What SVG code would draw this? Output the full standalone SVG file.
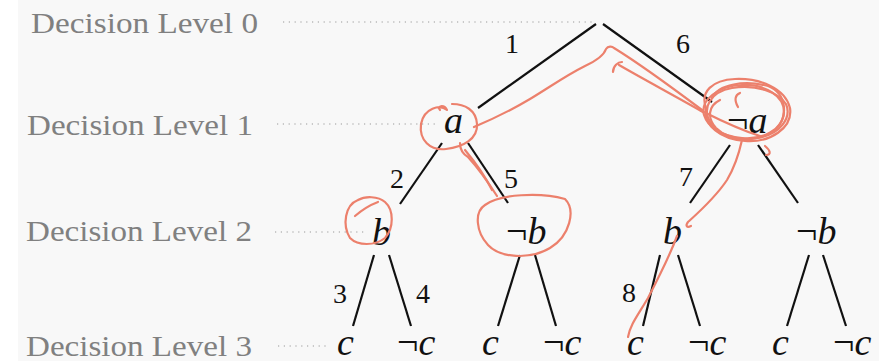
<svg xmlns="http://www.w3.org/2000/svg" width="879" height="361" viewBox="0 0 879 361">
<style>
.lvl{font-family:"Liberation Serif","DejaVu Serif",serif;font-size:29px;fill:#808080}
.dot{stroke:#9a9a9a;stroke-width:1.2;stroke-dasharray:1.2 4.6;fill:none}
.edge{stroke:#111;stroke-width:2.2;fill:none}
.num{font-family:"Liberation Serif","DejaVu Serif",serif;font-size:28px;fill:#111;text-anchor:middle}
.node{font-family:"Liberation Serif","DejaVu Serif",serif;font-size:38px;font-style:italic;fill:#111}
.neg{font-style:normal}
.ann{stroke:#ec806c;stroke-width:2.2;fill:none;stroke-linecap:round;stroke-linejoin:round}
</style>
<rect x="0" y="0" width="879" height="361" fill="#ffffff"/>
<rect x="18" y="0" width="861" height="361" fill="#f8f8f8"/>
<g id="levels">
<text class="lvl" x="31" y="33" textLength="227" lengthAdjust="spacingAndGlyphs">Decision Level 0</text>
<text class="lvl" x="27" y="135" textLength="226" lengthAdjust="spacingAndGlyphs">Decision Level 1</text>
<text class="lvl" x="26" y="241" textLength="226" lengthAdjust="spacingAndGlyphs">Decision Level 2</text>
<text class="lvl" x="26" y="356" textLength="226" lengthAdjust="spacingAndGlyphs">Decision Level 3</text>
<line class="dot" x1="283" y1="22" x2="595" y2="22"/>
<line class="dot" x1="277" y1="124" x2="435" y2="124"/>
<line class="dot" x1="275" y1="232" x2="365" y2="232"/>
<line class="dot" x1="278" y1="346" x2="328" y2="346"/>
</g>
<g id="connectors">
<line class="edge" x1="596" y1="24" x2="478" y2="108"/>
<line class="edge" x1="603" y1="24" x2="712" y2="102"/>
<line class="edge" x1="442" y1="143" x2="400" y2="204"/>
<line class="edge" x1="468" y1="143" x2="508" y2="203"/>
<line class="edge" x1="730" y1="145" x2="690" y2="203"/>
<line class="edge" x1="758" y1="145" x2="798" y2="203"/>
<line class="edge" x1="374" y1="255" x2="353" y2="326"/>
<line class="edge" x1="389" y1="255" x2="411" y2="326"/>
<line class="edge" x1="520" y1="255" x2="498" y2="326"/>
<line class="edge" x1="535" y1="255" x2="556" y2="326"/>
<line class="edge" x1="660" y1="255" x2="643" y2="326"/>
<line class="edge" x1="678" y1="255" x2="700" y2="326"/>
<line class="edge" x1="809" y1="255" x2="787" y2="326"/>
<line class="edge" x1="823" y1="255" x2="846" y2="326"/>
<text class="num" x="512" y="53">1</text>
<text class="num" x="683" y="53">6</text>
<text class="num" x="397" y="188">2</text>
<text class="num" x="511" y="188">5</text>
<text class="num" x="686" y="186">7</text>
<text class="num" x="340" y="303">3</text>
<text class="num" x="423" y="303">4</text>
<text class="num" x="629" y="302">8</text>
</g>
<g id="n-a"><text class="node" x="444" y="133">a</text></g>
<g id="n-nota"><text class="node" x="727" y="133"><tspan class="neg">¬</tspan>a</text></g>
<g id="n-b1"><text class="node" x="372" y="245">b</text></g>
<g id="n-notb2"><text class="node" x="506" y="244"><tspan class="neg">¬</tspan>b</text></g>
<g id="n-b3"><text class="node" x="663" y="244">b</text></g>
<g id="n-notb4"><text class="node" x="796" y="244"><tspan class="neg">¬</tspan>b</text></g>
<g id="n-c1"><text class="node" x="337" y="355">c</text></g>
<g id="n-notc1"><text class="node" x="397" y="355"><tspan class="neg">¬</tspan>c</text></g>
<g id="n-c2"><text class="node" x="482" y="355">c</text></g>
<g id="n-notc2"><text class="node" x="543" y="355"><tspan class="neg">¬</tspan>c</text></g>
<g id="n-c3"><text class="node" x="627" y="355">c</text></g>
<g id="n-notc3"><text class="node" x="688" y="355"><tspan class="neg">¬</tspan>c</text></g>
<g id="n-c4"><text class="node" x="772" y="355">c</text></g>
<g id="n-notc4"><text class="node" x="833" y="355"><tspan class="neg">¬</tspan>c</text></g>
<g id="annotations">
<path class="ann" d="M440,110 C436,106 444,104 447,110 C440,104 424,108 421,124 C419,140 430,151 446,149 C463,147 478,139 477,124 C476,110 465,104 452,104"/>
<path class="ann" d="M474,127 C495,118 515,108 530,99 C550,87 565,76 585,66 C598,60 604,55 606,49 C608,46 612,46 614,48 C640,64 670,86 702,110"/>
<path class="ann" d="M613,72 C613,66 618,62 622,62 M619,65 C645,80 675,96 703,112"/>
<path class="ann" d="M706,108 C700,92 712,80 735,79 C760,78 785,88 790,108 C793,128 770,143 745,141 C720,139 703,125 706,108 Z"/>
<path class="ann" d="M712,98 C718,84 745,80 768,86 C788,94 788,118 775,130 C760,142 730,142 716,128 C707,118 708,106 720,100"/>
<path class="ann" d="M704,115 C700,100 718,86 742,85 C765,84 784,96 784,112 C783,130 762,140 742,138 C722,136 708,128 704,115"/>
<path class="ann" d="M710,122 C702,108 710,92 732,88 C756,84 778,92 786,104 C792,118 780,134 758,138 C738,142 716,136 710,122"/>
<path class="ann" d="M700,110 C716,118 735,128 760,136"/>
<path class="ann" d="M738,107 C734,100 735,95 740,93"/>
<path class="ann" d="M765,146 C770,150 772,155 766,155"/>
<path class="ann" d="M742,140 C738,158 733,170 727,180 C715,198 698,213 688,222 C685,226 687,228 691,226"/>
<path class="ann" d="M677,236 C670,255 660,275 648,298 C638,315 630,325 628,337"/>
<path class="ann" d="M460,143 C460,150 463,154 468,157 C478,168 488,182 497,196"/>
<path class="ann" d="M465,150 C475,162 485,176 492,190"/>
<path class="ann" d="M485,205 C500,194 540,192 565,199 C576,210 570,236 550,248 C530,260 500,258 488,245 C476,232 474,212 485,205"/>
<path class="ann" d="M358,200 C345,205 342,225 350,238 C358,246 375,246 385,238 C394,228 394,210 385,202 C378,196 365,196 358,200"/>
<path class="ann" d="M355,216 C362,210 370,205 378,202"/>
</g>
</svg>
